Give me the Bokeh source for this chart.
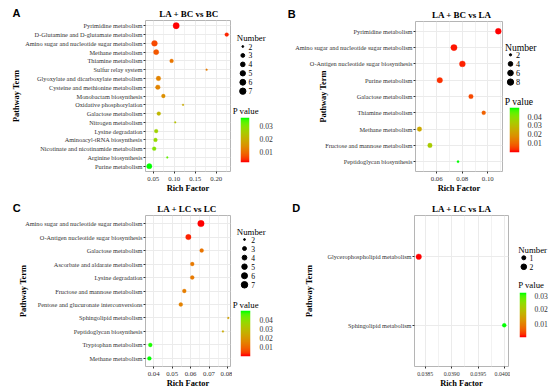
import numpy as np
from bokeh.plotting import figure
from bokeh.models import (Range1d, FixedTicker, LinearColorMapper, ColumnDataSource,
                          PrintfTickFormatter)
from bokeh.layouts import row, column
from bokeh.embed import file_html
from bokeh.resources import INLINE
from bokeh.core.properties import value

SERIF = "Liberation Serif"
SANS = "Liberation Sans"

# ---------------- data ----------------
a_title = "LA + BC vs BC"
a_terms = ["Pyrimidine metabolism", "D-Glutamine and D-glutamate metabolism",
           "Amino sugar and nucleotide sugar metabolism", "Methane metabolism",
           "Thiamine metabolism", "Sulfur relay system",
           "Glyoxylate and dicarboxylate metabolism", "Cysteine and methionine metabolism",
           "Monobactam biosynthesis", "Oxidative phosphorylation", "Galactose metabolism",
           "Nitrogen metabolism", "Lysine degradation", "Aminoacyl-tRNA biosynthesis",
           "Nicotinate and nicotinamide metabolism", "Arginine biosynthesis",
           "Purine metabolism"]
a_rich = [0.1046, 0.2249, 0.0530, 0.0570, 0.0937, 0.1770, 0.0624, 0.0609, 0.0741,
          0.1210, 0.0632, 0.1023, 0.0570, 0.0554, 0.0523, 0.0835, 0.0406]
a_count = [7, 3, 6, 5, 3, 2, 4, 4, 3, 2, 3, 2, 3, 3, 3, 2, 5]
a_pval = [0.0026, 0.0036, 0.0059, 0.0072, 0.0108, 0.0115, 0.0125, 0.0128, 0.0144,
          0.0190, 0.0210, 0.0230, 0.0263, 0.0276, 0.0296, 0.0322, 0.0355]
a_xlim = [0.0316, 0.2339]
a_xticks = [0.05, 0.10, 0.15, 0.20]
a_xminor = [0.075, 0.125, 0.175, 0.225]
a_size_breaks = [2, 3, 4, 5, 6, 7]
a_p_ticks = [0.01, 0.02, 0.03]

b_title = "LA + BC vs LA"
b_terms = ["Pyrimidine metabolism", "Amino sugar and nucleotide sugar metabolism",
           "O-Antigen nucleotide sugar biosynthesis", "Purine metabolism",
           "Galactose metabolism", "Thiamine metabolism", "Methane metabolism",
           "Fructose and mannose metabolism", "Peptidoglycan biosynthesis"]
b_rich = [0.1082, 0.0735, 0.0801, 0.0624, 0.0868, 0.0968, 0.0465, 0.0547, 0.0767]
b_count = [7, 8, 7, 6, 4, 3, 4, 4, 2]
b_pval = [0.0003, 0.0010, 0.0015, 0.0025, 0.0052, 0.0086, 0.0237, 0.0334, 0.0490]
b_xlim = [0.0434, 0.1115]
b_xticks = [0.06, 0.08, 0.10]
b_xminor = [0.05, 0.07, 0.09, 0.11]
b_size_breaks = [2, 4, 6, 8]
b_p_ticks = [0.01, 0.02, 0.03, 0.04]

c_title = "LA + LC vs LC"
c_terms = ["Amino sugar and nucleotide sugar metabolism",
           "O-Antigen nucleotide sugar biosynthesis", "Galactose metabolism",
           "Ascorbate and aldarate metabolism", "Lysine degradation",
           "Fructose and mannose metabolism", "Pentose and glucuronate interconversions",
           "Sphingolipid metabolism", "Peptidoglycan biosynthesis",
           "Tryptophan metabolism", "Methane metabolism"]
c_rich = [0.0656, 0.0588, 0.0660, 0.0609, 0.0609, 0.0566, 0.0547, 0.0804, 0.0775,
          0.0382, 0.0377]
c_count = [7, 5, 3, 3, 3, 3, 3, 2, 2, 3, 3]
c_pval = [0.0002, 0.0015, 0.0120, 0.0129, 0.0129, 0.0139, 0.0148, 0.0220, 0.0246,
          0.0485, 0.0490]
c_xlim = [0.0356, 0.0816]
c_xticks = [0.04, 0.05, 0.06, 0.07, 0.08]
c_xminor = [0.045, 0.055, 0.065, 0.075]
c_size_breaks = [2, 3, 4, 5, 6, 7]
c_p_ticks = [0.01, 0.02, 0.03, 0.04]

d_title = "LA + LC vs LA"
d_terms = ["Glycerophospholipid metabolism", "Sphingolipid metabolism"]
d_rich = [0.03838, 0.03999]
d_count = [2, 1]
d_pval = [0.0016, 0.0308]
d_xlim = [0.03830, 0.04007]
d_xticks = [0.0385, 0.0390, 0.0395, 0.0400]
d_xminor = [0.03875, 0.03925, 0.03975]
d_size_breaks = [1, 2]
d_p_ticks = [0.01, 0.02, 0.03]


# ---------------- colour ramp (CIELAB, red -> green) ----------------
def hex_to_lab(h):
    rgb = [int(h[i:i + 2], 16) / 255 for i in (1, 3, 5)]
    lin = [c / 12.92 if c <= 0.04045 else ((c + 0.055) / 1.055) ** 2.4 for c in rgb]
    r, g, b = lin
    X = (0.4124 * r + 0.3576 * g + 0.1805 * b) / 0.95047
    Y = (0.2126 * r + 0.7152 * g + 0.0722 * b)
    Z = (0.0193 * r + 0.1192 * g + 0.9505 * b) / 1.08883
    f = lambda t: t ** (1 / 3) if t > 0.008856 else 7.787 * t + 16 / 116
    fx, fy, fz = f(X), f(Y), f(Z)
    return (116 * fy - 16, 500 * (fx - fy), 200 * (fy - fz))


def lab_to_hex(L, a, b):
    fy = (L + 16) / 116
    fx = fy + a / 500
    fz = fy - b / 200
    finv = lambda t: t ** 3 if t ** 3 > 0.008856 else (t - 16 / 116) / 7.787
    X, Y, Z = finv(fx) * 0.95047, finv(fy), finv(fz) * 1.08883
    r = 3.2406 * X - 1.5372 * Y - 0.4986 * Z
    g = -0.9689 * X + 1.8758 * Y + 0.0415 * Z
    bb = 0.0557 * X - 0.2040 * Y + 1.0570 * Z

    def gam(c):
        c = max(0.0, min(1.0, c))
        return 12.92 * c if c <= 0.0031308 else 1.055 * c ** (1 / 2.4) - 0.055
    return "#%02x%02x%02x" % tuple(int(round(gam(c) * 255)) for c in (r, g, bb))


LO, HI = hex_to_lab("#FF0000"), hex_to_lab("#00FF00")
PALETTE = [lab_to_hex(*[l + (h - l) * t for l, h in zip(LO, HI)])
           for t in np.linspace(0, 1, 256)]

H = 195
TXT = "#333333"


def diam(counts, nlo, nhi, dmin, dmax):
    return [dmin + (dmax - dmin) * float(np.sqrt((c - nlo) / (nhi - nlo))) for c in counts]


def blank(w, h, xr, yr):
    p = figure(width=w, height=h, x_range=Range1d(*xr), y_range=Range1d(*yr),
               output_backend="svg", toolbar_location=None, min_border=0, title=None,
               x_axis_location=None, y_axis_location=None, frame_align=False)
    p.outline_line_color = None
    p.grid.visible = False
    p.background_fill_color = "white"
    p.border_fill_color = "white"
    return p


def panel(terms, rich, count, pval, xlim, xticks, xminor, fmt, title, letter, cfg):
    mw, hh, bl, br, bb = cfg["mw"], cfg["hh"], cfg["bl"], cfg["br"], cfg["bb"]
    dmin, dmax = cfg["dsz"]
    n = len(terms)
    ys = list(range(n, 0, -1))
    mapper = LinearColorMapper(palette=PALETTE, low=min(pval), high=max(pval))

    # header: panel letter and title (bottom of text box on the header's lower edge)
    hd = blank(mw, hh, (0, mw), (0, hh))
    hd.text(x=[cfg["letter"]], y=[0.6], text=[letter],
            text_font=value(SANS), text_font_style="bold", text_font_size=value("11px"),
            text_baseline="bottom", text_align="left", text_color="black")
    hd.text(x=[cfg["title"]], y=[0.3], text=[title],
            text_font=value(SERIF), text_font_style="bold", text_font_size=value("9px"),
            text_baseline="bottom", text_align="center", text_color="black")

    # main dot plot
    src = ColumnDataSource(dict(x=rich, y=ys, p=pval, n=count,
                                d=diam(count, min(count), max(count), dmin, dmax)))
    p = figure(width=mw, height=H - hh, x_range=Range1d(*xlim),
               y_range=Range1d(0.4, n + 0.6), output_backend="svg", toolbar_location=None,
               title=None, min_border_left=bl, min_border_right=br, min_border_top=1,
               min_border_bottom=bb, frame_align=False)
    p.background_fill_color = "white"
    p.border_fill_color = "white"
    p.outline_line_color = "#B5B5B5"
    p.outline_line_width = 1

    p.xaxis.ticker = FixedTicker(ticks=xticks, minor_ticks=xminor)
    p.xaxis.formatter = PrintfTickFormatter(format=fmt)
    p.yaxis.ticker = FixedTicker(ticks=ys)
    p.yaxis.major_label_overrides = {y: t for y, t in zip(ys, terms)}
    for ax in (p.xaxis[0], p.yaxis[0]):
        ax.axis_line_color = None
        ax.major_tick_line_color = TXT
        ax.major_tick_out = 2
        ax.major_tick_in = 0
        ax.minor_tick_line_color = None
        ax.major_label_text_font = SERIF
        ax.major_label_text_color = TXT
        ax.axis_label_text_font = SERIF
        ax.axis_label_text_font_style = "bold"
        ax.axis_label_text_color = "black"
    p.xaxis.major_label_text_font_size = cfg.get("xfs", "6.8px")
    p.yaxis.major_label_text_font_size = "6.3px"
    p.xaxis.major_label_standoff = 1
    p.yaxis.major_label_standoff = 1
    p.xaxis.axis_label = "Rich Factor"
    p.yaxis.axis_label = "Pathway Term"
    p.xaxis.axis_label_text_font_size = "8.4px"
    p.yaxis.axis_label_text_font_size = "8.3px"
    p.xaxis.axis_label_standoff = 0
    p.yaxis.axis_label_standoff = cfg["ylab"]
    p.xgrid.grid_line_color = "#EBEBEB"
    p.xgrid.minor_grid_line_color = "#F2F2F2"
    p.ygrid.grid_line_color = "#EBEBEB"
    p.scatter("x", "y", size="d", source=src,
              fill_color={"field": "p", "transform": mapper},
              line_color={"field": "p", "transform": mapper}, line_width=0.3)

    # size legend ("Number") and "P value" title
    fw = 275 - mw
    nh = cfg["bar"][1]
    lg = blank(fw, nh, (0, fw), (0, nh))
    breaks = cfg["breaks"]
    k = len(breaks)
    y0, dy = cfg["rows"]
    rys = [nh - (y0 + i * dy) for i in range(k)]
    lg.scatter(x=[cfg["dot_x"]] * k, y=rys,
               size=diam(breaks, min(count), max(count), dmin, dmax), color="black")
    lg.text(x=[cfg["lab_x"]] * k, y=rys, text=[str(b) for b in breaks],
            text_font=value(SERIF), text_font_size=value(cfg["lfs"]),
            text_baseline="middle", text_align="left", text_color="black")
    lg.text(x=[cfg["num"][0], cfg["pv"][0]], y=[nh - cfg["num"][1], nh - cfg["pv"][1]],
            text=["Number", "P value"], text_font=value(SERIF),
            text_font_size=value(cfg["tfs"]), text_baseline="middle", text_align="left",
            text_color="black")

    # colour bar: gradient image on its own p-value scale, labels on a right axis
    bx, btop, bh = cfg["bar"][0], cfg["bar"][1], cfg["bar"][2]
    span = max(pval) - min(pval)
    ext = span * 0.025 / 0.95
    lo_, hi_ = min(pval) - ext, max(pval) + ext
    cb = figure(width=fw, height=H - btop, x_range=Range1d(0, 1), y_range=Range1d(lo_, hi_),
                output_backend="svg", toolbar_location=None, title=None,
                min_border_left=bx, min_border_right=fw - bx - 10, min_border_top=0,
                min_border_bottom=H - btop - bh, x_axis_location=None,
                y_axis_location="right", frame_align=False)
    cb.outline_line_color = None
    cb.grid.visible = False
    cb.background_fill_color = "white"
    cb.border_fill_color = "white"
    grad = np.linspace(lo_, hi_, 200).reshape(200, 1)
    cb.image(image=[grad], x=0, y=lo_, dw=1, dh=hi_ - lo_, color_mapper=mapper)
    ya = cb.yaxis[0]
    ya.ticker = FixedTicker(ticks=cfg["pticks"])
    ya.formatter = PrintfTickFormatter(format="%.2f")
    ya.axis_line_color = None
    ya.major_tick_line_color = None
    ya.minor_tick_line_color = None
    ya.major_label_standoff = cfg["cbs"]
    ya.major_label_text_font = SERIF
    ya.major_label_text_font_size = cfg["lfs"]
    ya.major_label_text_color = TXT

    return row(column(hd, p), column(lg, cb))


cfgA = dict(mw=232, hh=19, bl=145, br=2, bb=20, dsz=(1.8, 6.3), ylab=1,
            letter=12, title=188.5, breaks=a_size_breaks,
            pticks=a_p_ticks, num=(4.3, 37.3), dot_x=10.3, lab_x=16, rows=(46, 8.94),
            pv=(0.3, 110), bar=(8, 117, 45), cbs=4, lfs="7.6px", tfs="8.8px")
cfgB = dict(mw=228, hh=20, bl=140, br=1, bb=20, dsz=(2.3, 6.3), ylab=-36,
            letter=12.3, title=186.3, breaks=b_size_breaks,
            pticks=b_p_ticks, num=(1.5, 46.7), dot_x=7, lab_x=12.5, rows=(54.3, 9.1),
            pv=(1.3, 101), bar=(6, 107, 45), cbs=2, lfs="8.2px", tfs="9.6px")
cfgC = dict(mw=232, hh=19, bl=145, br=2, bb=21, dsz=(1.8, 6.5), ylab=-6,
            letter=12.3, title=186.5, breaks=c_size_breaks,
            pticks=c_p_ticks, num=(4.3, 36), dot_x=12, lab_x=18.7, rows=(44, 9.06),
            pv=(0.3, 109), bar=(8, 115, 46), cbs=3, lfs="7.6px", tfs="8.8px")
cfgD = dict(mw=235, hh=19, bl=139, br=2, bb=22, dsz=(4.0, 5.6), ylab=10,
            letter=16.7, title=186.3, breaks=d_size_breaks,
            pticks=d_p_ticks, num=(7.7, 54.3), dot_x=13.3, lab_x=19, rows=(62.3, 9.0),
            pv=(7.7, 89.3), bar=(9, 97, 45), cbs=2, lfs="7.6px", tfs="8.8px", xfs="5.8px")

gA = panel(a_terms, a_rich, a_count, a_pval, a_xlim, a_xticks, a_xminor, "%.2f",
           a_title, "A", cfgA)
gB = panel(b_terms, b_rich, b_count, b_pval, b_xlim, b_xticks, b_xminor, "%.2f",
           b_title, "B", cfgB)
gC = panel(c_terms, c_rich, c_count, c_pval, c_xlim, c_xticks, c_xminor, "%.2f",
           c_title, "C", cfgC)
gD = panel(d_terms, d_rich, d_count, d_pval, d_xlim, d_xticks, d_xminor, "%.4f",
           d_title, "D", cfgD)

layout = column(row(gA, gB), row(gC, gD))
open("out.html", "w").write(file_html(layout, INLINE))
